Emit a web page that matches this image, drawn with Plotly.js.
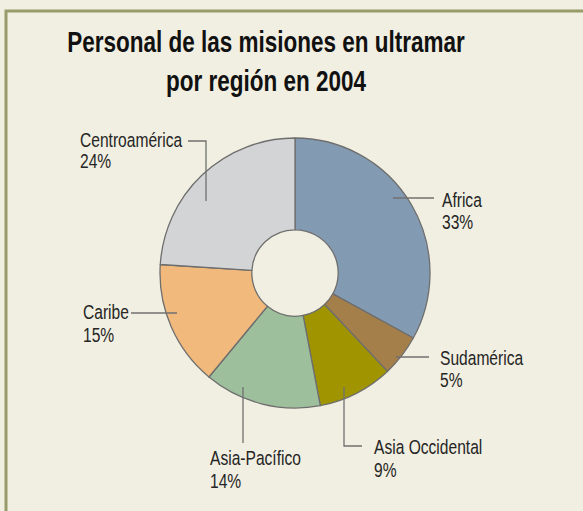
<!DOCTYPE html>
<html>
<head>
<meta charset="utf-8">
<script src="https://cdn.plot.ly/plotly-3.0.1.min.js"></script>
<style>
html,body{margin:0;padding:0;background:#f1efe1;}
#chart{width:583px;height:511px;}
</style>
</head>
<body>
<div id="chart"></div>
<script>
// ---- data ----
var regions = ["Africa", "Sudamérica", "Asia Occidental", "Asia-Pacífico", "Caribe", "Centroamérica"];
var shares = [33, 5, 9, 14, 15, 24];
var colors = ["#839bb2", "#a57f4a", "#a09500", "#9ebf9c", "#f1ba7c", "#d3d4d6"];
var titleText = "Personal de las misiones en ultramar<br>por región en 2004";

// ---- layout helpers (pixel positions of label blocks and leader lines) ----
var W = 583, H = 511;
function px(x){ return x / W; }
function py(y){ return 1 - y / H; }

var labelPos = [
  {x: 440, y1: 200, y2: 222, lead: [[393,198],[434,198]]},
  {x: 438, y1: 358, y2: 380, lead: [[396,357],[429,357]]},
  {x: 372, y1: 447, y2: 470, lead: [[344,387],[344,446],[362,446]]},
  {x: 208, y1: 458, y2: 481, lead: [[243,387],[243,443]]},
  {x: 81,  y1: 312, y2: 335, lead: [[177,313],[131,313]]},
  {x: 78,  y1: 140, y2: 161, lead: [[206,201],[206,141],[188,141]]}
];

var FONT = "Liberation Sans, Arial, sans-serif";
var labelFont = {family: FONT, size: 19.5, color: "#252525"};
var annotations = [];
var shapes = [];
regions.forEach(function(name, i){
  var p = labelPos[i];
  annotations.push({xref:"paper", yref:"paper", x: px(p.x), y: py(p.y1), xanchor:"left", yanchor:"middle",
    align:"left", text: name, showarrow:false, font: labelFont});
  annotations.push({xref:"paper", yref:"paper", x: px(p.x), y: py(p.y2), xanchor:"left", yanchor:"middle",
    align:"left", text: shares[i] + "%", showarrow:false, font: labelFont});
  var d = p.lead.map(function(pt, k){ return (k ? "L" : "M") + px(pt[0]) + "," + py(pt[1]); }).join(" ");
  shapes.push({type:"path", xref:"paper", yref:"paper", path: d, line:{color:"#707070", width:1.3}});
});

// frame
shapes.push({type:"path", xref:"paper", yref:"paper",
  path: "M" + px(6) + "," + py(520) + " L" + px(6) + "," + py(11) + " L" + px(600) + "," + py(11),
  line:{color:"#9a9b6b", width:3}});

var cx = 295, cy = 273, R = 135;
var trace = {
  type: "pie",
  labels: regions,
  values: shares,
  sort: false,
  direction: "clockwise",
  rotation: 0,
  hole: 0.32,
  textinfo: "none",
  hoverinfo: "label+percent",
  marker: {colors: colors, line: {color: "#6e6e6e", width: 1.3}},
  domain: {x: [px(cx - R), px(cx + R)], y: [py(cy + R), py(cy - R)]},
  showlegend: false
};

var layout = {
  width: W, height: H,
  margin: {l:0, r:0, t:0, b:0},
  paper_bgcolor: "#f1efe1",
  plot_bgcolor: "#f1efe1",
  showlegend: false,
  title: {
    text: "<b>" + titleText + "</b>",
    font: {family: FONT, size: 30, color: "#111111"},
    x: px(266), xanchor: "center", xref: "paper",
    y: 1 - 52 / H, yanchor: "top", yref: "container"
  },
  annotations: annotations,
  shapes: shapes
};

// condense text horizontally (the original uses a condensed typeface)
// mode: "center" keeps the horizontal centre, "left" keeps the left edge
function condense(el, f, mode){
  var b = el.getBBox();
  if (!b.width) return;
  var ax = mode === "left" ? b.x : b.x + b.width / 2;
  var prev = el.getAttribute("transform") || "";
  el.setAttribute("transform", prev + " translate(" + ax + ",0) scale(" + f + ",1) translate(" + (-ax) + ",0)");
}

Plotly.newPlot("chart", [trace], layout, {displayModeBar: false, staticPlot: true}).then(function(gd){
  gd.querySelectorAll(".gtitle").forEach(function(el){ condense(el, 0.75, "center"); });
  gd.querySelectorAll(".annotation-text").forEach(function(el){ condense(el, 0.8, "left"); });
});
</script>
</body>
</html>
